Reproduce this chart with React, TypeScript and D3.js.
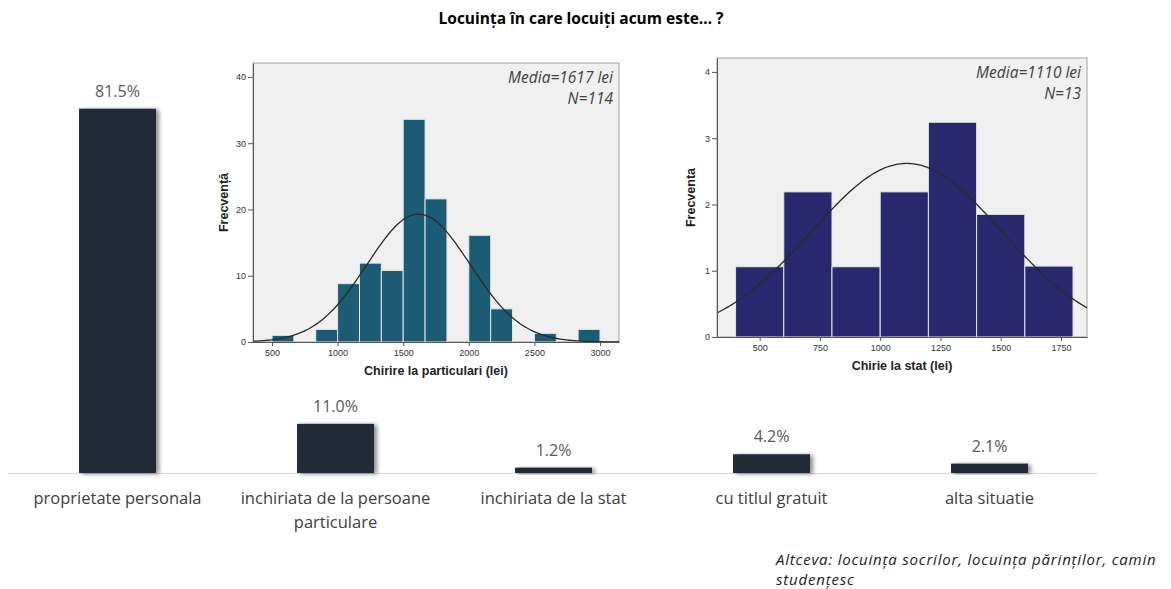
import * as d3 from "d3";
import { useEffect, useRef } from "react";

// main bar chart
const categoryLines = [
  ["proprietate personala"],
  ["inchiriata de la persoane", "particulare"],
  ["inchiriata de la stat"],
  ["cu titlul gratuit"],
  ["alta situatie"],
];
const categories = categoryLines.map((l) => l.join(" "));
const shares = [81.5, 11.0, 1.2, 4.2, 2.1];

// histogram: chirie la particulari
const privateEdges = [500, 666.7, 833.3, 1000, 1166.7, 1333.3, 1500, 1666.7, 1833.3, 2000, 2166.7, 2333.3, 2500, 2666.7, 2833.3, 3000];
const privateCounts = [1, 0, 1.9, 8.8, 11.9, 10.8, 33.6, 21.6, 0, 16.1, 5, 0, 1.3, 0, 1.9];
const privateXTicks = [500, 1000, 1500, 2000, 2500, 3000];
const privateYTicks = [0, 10, 20, 30, 40];
const privateMean = 1617;
const privateSd = 393;
const privateN = 114;

// histogram: chirie la stat
const stateEdges = [400, 600, 800, 1000, 1200, 1400, 1600, 1800];
const stateCounts = [1.06, 2.19, 1.06, 2.19, 3.24, 1.85, 1.07];
const stateXTicks = [500, 750, 1000, 1250, 1500, 1750];
const stateYTicks = [0, 1, 2, 3, 4];
const stateMean = 1110;
const stateSd = 396;
const stateN = 13;

interface HistProps {
  left: number;
  top: number;
  width: number;
  height: number;
  xDomain: [number, number];
  yMax: number;
  edges: number[];
  counts: number[];
  xTicks: number[];
  yTicks: number[];
  mean: number;
  sd: number;
  n: number;
  fill: string;
  xLabel: string;
  yLabel: string;
  yLabelOffset: number;
}

function Histogram(p: HistProps) {
  const gRef = useRef<SVGGElement>(null);

  useEffect(() => {
    const g = d3.select(gRef.current);
    g.selectAll("*").remove();

    const x = d3.scaleLinear().domain(p.xDomain).range([p.left, p.left + p.width]);
    const y = d3.scaleLinear().domain([0, p.yMax]).range([p.top + p.height, p.top]);
    const bottom = p.top + p.height;

    g.append("rect")
      .attr("x", p.left)
      .attr("y", p.top)
      .attr("width", p.width)
      .attr("height", p.height)
      .attr("fill", "#f0f0f0")
      .attr("stroke", "#a0a0a0");

    g.selectAll("rect.bin")
      .data(p.counts)
      .join("rect")
      .attr("class", "bin")
      .attr("x", (_, i) => x(p.edges[i]))
      .attr("width", (_, i) => x(p.edges[i + 1]) - x(p.edges[i]))
      .attr("y", (d) => y(d))
      .attr("height", (d) => bottom - y(d))
      .attr("fill", p.fill)
      .attr("stroke", "#e4e4e4")
      .attr("stroke-width", 1)
      .style("display", (d) => (d > 0 ? null : "none"));

    // fitted normal curve
    const binW = p.edges[1] - p.edges[0];
    const peak = (p.n * binW) / (p.sd * Math.sqrt(2 * Math.PI));
    const xs = d3.range(p.xDomain[0], p.xDomain[1], (p.xDomain[1] - p.xDomain[0]) / 200).concat([p.xDomain[1]]);
    const line = d3
      .line<number>()
      .x((v) => x(v))
      .y((v) => y(peak * Math.exp(-0.5 * ((v - p.mean) / p.sd) ** 2)));
    g.append("path")
      .datum(xs)
      .attr("d", line)
      .attr("fill", "none")
      .attr("stroke", "#2a2a2a")
      .attr("stroke-width", 1.3);

    const xAxis = g
      .append("g")
      .attr("transform", `translate(0,${bottom})`)
      .call(
        d3.axisBottom(x).tickValues(p.xTicks).tickFormat(d3.format("d")).tickSize(4).tickPadding(4).tickSizeOuter(0)
      );
    const yAxis = g
      .append("g")
      .attr("transform", `translate(${p.left},0)`)
      .call(
        d3.axisLeft(y).tickValues(p.yTicks).tickFormat(d3.format("d")).tickSize(5).tickPadding(2).tickSizeOuter(0)
      );
    [xAxis, yAxis].forEach((a) => {
      a.select(".domain").attr("stroke", "#555");
      a.selectAll(".tick line").attr("stroke", "#555");
      a.selectAll("text")
        .attr("fill", "#333")
        .style("font", "9px 'Liberation Sans', Arial, sans-serif");
    });

    g.append("text")
      .attr("x", p.left + p.width / 2)
      .attr("y", bottom + 33)
      .attr("text-anchor", "middle")
      .attr("fill", "#222")
      .style("font", "bold 12.5px 'Liberation Sans', Arial, sans-serif")
      .text(p.xLabel);

    g.append("text")
      .attr("transform", `translate(${p.left - p.yLabelOffset},${p.top + p.height / 2}) rotate(-90)`)
      .attr("text-anchor", "middle")
      .attr("fill", "#222")
      .style("font", "bold 12.5px 'Liberation Sans', Arial, sans-serif")
      .text(p.yLabel);

    const stat = g
      .append("text")
      .attr("text-anchor", "end")
      .attr("fill", "#404040")
      .style("font", "italic 15.5px 'Open Sans', sans-serif");
    stat.append("tspan").attr("x", p.left + p.width - 6).attr("y", p.top + 20).text(`Media=${p.mean} lei`);
    stat.append("tspan").attr("x", p.left + p.width - 6).attr("y", p.top + 41).text(`N=${p.n}`);
  });

  return <g ref={gRef} />;
}

function BarChart() {
  const gRef = useRef<SVGGElement>(null);

  useEffect(() => {
    const g = d3.select(gRef.current);
    g.selectAll("*").remove();

    const x = d3.scaleBand<string>().domain(categories).range([8.5, 1098.5]).paddingInner(0.647).paddingOuter(0.3235);
    const y = d3.scaleLinear().domain([0, 100]).range([473, 26]);

    g.append("line")
      .attr("x1", 8)
      .attr("x2", 1097)
      .attr("y1", y(0) + 0.5)
      .attr("y2", y(0) + 0.5)
      .attr("stroke", "#d9d9d9");

    g.selectAll("rect.bar")
      .data(shares)
      .join("rect")
      .attr("class", "bar")
      .attr("x", (_, i) => x(categories[i])!)
      .attr("width", x.bandwidth())
      .attr("y", (d) => y(d))
      .attr("height", (d) => y(0) - y(d))
      .attr("fill", "#232b38")
      .attr("filter", "url(#shadow)");

    g.selectAll("text.val")
      .data(shares)
      .join("text")
      .attr("class", "val")
      .attr("x", (_, i) => x(categories[i])! + x.bandwidth() / 2)
      .attr("y", (d) => y(d) - 12)
      .attr("text-anchor", "middle")
      .attr("fill", "#595959")
      .style("font", "16px 'Open Sans', sans-serif")
      .text((d) => `${d.toFixed(1)}%`);

    const labels = g
      .selectAll("text.cat")
      .data(categoryLines)
      .join("text")
      .attr("class", "cat")
      .attr("text-anchor", "middle")
      .attr("fill", "#404040")
      .style("font", "16.5px 'Open Sans', sans-serif");
    labels.each(function (lines, i) {
      const cx = x(categories[i])! + x.bandwidth() / 2;
      d3.select(this)
        .selectAll("tspan")
        .data(lines)
        .join("tspan")
        .attr("x", cx)
        .attr("y", (_, j) => 504 + j * 24)
        .text((t) => t);
    });
  });

  return <g ref={gRef} />;
}

export default function App() {
  return (
    <svg
      width={1171}
      height={589}
      style={{ position: "absolute", left: 0, top: 0, background: "#fff" }}
    >
      <defs>
        <filter id="shadow" x="-20%" y="-20%" width="150%" height="140%">
          <feDropShadow dx="3" dy="1" stdDeviation="2" floodColor="#000" floodOpacity="0.45" />
        </filter>
      </defs>
      <BarChart />
      <text
        x={581}
        y={24}
        textAnchor="middle"
        fill="#000"
        style={{ font: "bold 15.5px 'Open Sans', sans-serif" }}
      >
        Locuința în care locuiți acum este… ?
      </text>
      <Histogram
        left={253}
        top={63}
        width={366}
        height={279}
        xDomain={[355, 3145]}
        yMax={42.1}
        edges={privateEdges}
        counts={privateCounts}
        xTicks={privateXTicks}
        yTicks={privateYTicks}
        mean={privateMean}
        sd={privateSd}
        n={privateN}
        fill="#1b5c74"
        xLabel="Chirire la particulari (lei)"
        yLabel="Frecvență"
        yLabelOffset={25}
      />
      <Histogram
        left={717}
        top={58}
        width={370}
        height={279}
        xDomain={[323, 1858]}
        yMax={4.21}
        edges={stateEdges}
        counts={stateCounts}
        xTicks={stateXTicks}
        yTicks={stateYTicks}
        mean={stateMean}
        sd={stateSd}
        n={stateN}
        fill="#27286e"
        xLabel="Chirie la stat (lei)"
        yLabel="Frecventa"
        yLabelOffset={22}
      />
      <text fill="#222" letterSpacing={0.8} style={{ font: "italic 15px 'Open Sans', sans-serif" }}>
        <tspan x={776} y={565}>
          Altceva: locuința socrilor, locuința părinților, camin
        </tspan>
        <tspan x={776} y={585}>
          studențesc
        </tspan>
      </text>
    </svg>
  );
}
